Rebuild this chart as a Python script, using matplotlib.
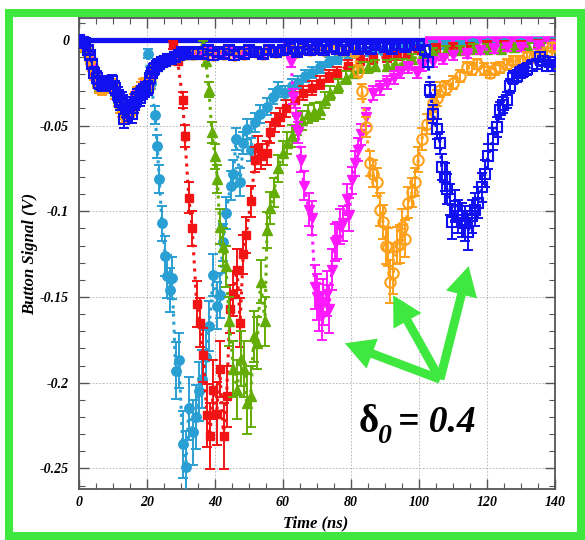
import numpy as np
import matplotlib
matplotlib.use("Agg")
import matplotlib.pyplot as plt
from matplotlib.patches import Rectangle, FancyArrowPatch

# ---------------- data ----------------
# common precursor (t in ns, signal in V)
pre_t = [0.0, 0.6, 1.2, 1.8, 2.5, 3.2, 3.8, 4.4, 5.2, 5.9,
         6.7, 7.6, 8.6, 9.7, 10.5, 11.5, 12.1, 12.6, 13.2, 13.8,
         14.4, 15.0, 15.6, 16.1, 16.5, 17.2, 17.9, 18.3, 18.8, 19.5]
pre_blue = [0.000, -0.001, -0.001, -0.002, -0.006, -0.009, -0.014, -0.019, -0.022, -0.025,
            -0.026, -0.026, -0.025, -0.024, -0.028, -0.032, -0.036, -0.035, -0.046, -0.040,
            -0.042, -0.038, -0.043, -0.038, -0.036, -0.033, -0.034, -0.031, -0.030, -0.029]
pre_other = [0.000, -0.001, -0.002, -0.004, -0.007, -0.011, -0.015, -0.020, -0.024, -0.027,
             -0.028, -0.027, -0.026, -0.027, -0.030, -0.034, -0.038, -0.040, -0.043, -0.042,
             -0.040, -0.040, -0.041, -0.036, -0.035, -0.032, -0.031, -0.029, -0.027, -0.026]

# plateau after precursor
mid_t = [20.3, 21.0, 21.5, 22.2, 22.9, 23.6, 24.4, 25.3, 26.2, 27.2,
         28.2, 29.3, 30.3, 31.2, 32.1, 33.5, 35.0, 36.5, 38.0, 39.5,
         41.0, 42.5, 44.0, 45.5, 47.0, 48.5, 50.0, 52.0, 54.0, 56.0,
         58.0, 60.0, 62.0, 64.0, 66.0, 68.0, 70.0, 72.0, 74.0, 76.0,
         78.0, 80.0, 82.0, 84.0, 86.0, 88.0, 90.0, 92.0, 94.0, 96.0,
         98.0, 100.0]
mid_v = [-0.028, -0.022, -0.019, -0.017, -0.015, -0.014, -0.013, -0.012, -0.011, -0.011,
         -0.010, -0.009, -0.007, -0.008, -0.007, -0.008, -0.007, -0.008, -0.006, -0.009,
         -0.007, -0.008, -0.006, -0.009, -0.007, -0.008, -0.006, -0.007, -0.008, -0.006,
         -0.007, -0.006, -0.005, -0.007, -0.005, -0.006, -0.005, -0.006, -0.004, -0.005,
         -0.006, -0.004, -0.005, -0.004, -0.005, -0.003, -0.004, -0.005, -0.003, -0.004,
         -0.003, -0.003]

# main pulses, one per bunch
cyan_t = [20.3, 21.2, 22.4, 23.0, 23.6, 24.4, 25.4, 26.0, 26.7, 27.4,
          28.4, 29.4, 30.5, 31.4, 32.3, 33.4, 34.4, 35.4, 36.3, 37.3,
          38.3, 39.5, 40.5, 41.4, 42.3, 43.2, 44.6, 45.4, 46.2, 47.4,
          48.3, 49.3, 50.5, 51.8, 53.2, 55.2, 57.2, 58.5, 60.5, 62.5,
          64.5, 66.5, 68.5, 71.0, 73.5, 76.0, 79.0, 82.0, 85.5, 89.0,
          92.5, 96.0, 100.0, 104.0, 108.0, 112.0, 116.0, 120.0, 125.0, 130.0,
          135.0, 140.0]
cyan_v = [-0.008, -0.025, -0.044, -0.062, -0.081, -0.107, -0.126, -0.138, -0.146, -0.139,
          -0.193, -0.187, -0.236, -0.249, -0.215, -0.229, -0.220, -0.205, -0.198, -0.185,
          -0.167, -0.137, -0.155, -0.149, -0.118, -0.101, -0.085, -0.078, -0.058, -0.083,
          -0.060, -0.052, -0.064, -0.048, -0.043, -0.039, -0.033, -0.029, -0.031, -0.027,
          -0.025, -0.021, -0.019, -0.016, -0.013, -0.011, -0.009, -0.008, -0.007, -0.006,
          -0.005, -0.004, -0.004, -0.003, -0.003, -0.003, -0.002, -0.002, -0.002, -0.002,
          -0.001, -0.001]

red_t = [27.7, 29.0, 30.5, 31.1, 32.3, 33.3, 34.6, 35.6, 36.6, 37.6,
         38.5, 39.5, 40.5, 41.4, 42.5, 43.4, 44.4, 45.4, 46.5, 47.4,
         48.3, 49.1, 50.6, 51.8, 52.7, 53.5, 55.2, 56.2, 57.5, 59.0,
         61.0, 63.5, 66.0, 68.5, 71.0, 73.5, 76.0, 79.0, 82.6, 86.5,
         90.6, 93.5, 96.5, 100.0, 105.0, 110.0, 115.0, 120.0, 125.0, 130.0,
         135.0, 140.0]
red_v = [-0.003, -0.012, -0.035, -0.056, -0.092, -0.110, -0.154, -0.165, -0.184, -0.219,
         -0.231, -0.204, -0.218, -0.192, -0.231, -0.208, -0.157, -0.148, -0.134, -0.165,
         -0.125, -0.114, -0.094, -0.070, -0.063, -0.068, -0.066, -0.054, -0.048, -0.045,
         -0.040, -0.035, -0.031, -0.028, -0.025, -0.021, -0.019, -0.015, -0.012, -0.011,
         -0.010, -0.009, -0.008, -0.006, -0.005, -0.004, -0.004, -0.003, -0.003, -0.003,
         -0.002, -0.002]

green_t = [36.5, 37.3, 38.2, 39.1, 40.0, 40.7, 41.4, 42.4, 43.2, 44.2,
           45.4, 46.5, 47.5, 48.5, 49.3, 50.5, 51.4, 52.4, 53.4, 54.7,
           55.3, 56.2, 57.3, 58.5, 60.0, 61.3, 62.6, 64.0, 65.7, 67.4,
           69.0, 70.9, 72.3, 73.8, 76.2, 78.5, 80.5, 82.6, 85.0, 87.0,
           90.6, 93.0, 95.3, 98.0, 101.0, 104.0, 108.0, 112.0, 116.0, 120.0,
           124.0, 128.0, 132.0, 136.0, 140.0]
green_v = [-0.003, -0.012, -0.029, -0.054, -0.068, -0.081, -0.109, -0.121, -0.132, -0.164,
           -0.192, -0.204, -0.186, -0.192, -0.212, -0.208, -0.173, -0.177, -0.141, -0.164,
           -0.111, -0.098, -0.089, -0.075, -0.066, -0.060, -0.056, -0.050, -0.047, -0.043,
           -0.042, -0.041, -0.035, -0.031, -0.027, -0.022, -0.019, -0.016, -0.016, -0.015,
           -0.015, -0.014, -0.014, -0.011, -0.009, -0.007, -0.006, -0.006, -0.005, -0.005,
           -0.005, -0.004, -0.004, -0.004, -0.004]

mag_t = [61.5, 62.4, 63.0, 63.7, 64.4, 65.2, 66.2, 67.6, 68.4, 69.4,
         70.0, 70.6, 71.4, 71.9, 72.8, 73.5, 74.4, 75.3, 75.9, 76.7,
         77.6, 78.7, 79.5, 80.2, 81.2, 82.0, 83.0, 84.5, 86.5, 88.5,
         90.6, 92.5, 94.4, 96.8, 99.4, 101.0, 104.0, 107.0, 110.0, 114.0,
         118.0, 122.0, 126.0, 130.0, 135.0, 140.0]
mag_v = [-0.005, -0.013, -0.033, -0.045, -0.054, -0.070, -0.085, -0.099, -0.104, -0.144,
         -0.150, -0.156, -0.161, -0.153, -0.148, -0.157, -0.134, -0.118, -0.117, -0.109,
         -0.107, -0.093, -0.102, -0.082, -0.072, -0.064, -0.055, -0.045, -0.031, -0.028,
         -0.025, -0.022, -0.019, -0.016, -0.019, -0.015, -0.013, -0.011, -0.009, -0.008,
         -0.006, -0.005, -0.004, -0.004, -0.003, -0.003]

orange_t = [80.9, 82.1, 83.2, 84.4, 85.6, 86.5, 87.6, 88.5, 89.4, 90.3,
            90.9, 91.5, 92.4, 93.5, 94.4, 94.9, 95.9, 96.8, 97.9, 98.8,
            99.8, 100.8, 102.3, 103.8, 104.2, 105.2, 106.2, 108.0, 110.0, 112.0,
            114.0, 115.5, 117.0, 119.0, 120.9, 122.4, 123.8, 125.8, 127.7, 129.7,
            131.7, 133.7, 135.6, 137.5, 139.0]
orange_v = [-0.007, -0.018, -0.030, -0.051, -0.072, -0.078, -0.083, -0.099, -0.106, -0.120,
            -0.121, -0.141, -0.136, -0.120, -0.119, -0.109, -0.116, -0.095, -0.089, -0.083,
            -0.070, -0.058, -0.049, -0.043, -0.037, -0.034, -0.029, -0.028, -0.025, -0.021,
            -0.016, -0.017, -0.014, -0.017, -0.019, -0.017, -0.016, -0.014, -0.012, -0.012,
            -0.010, -0.010, -0.009, -0.007, -0.004]

blue_t = [101.8, 102.7, 103.2, 104.2, 105.2, 106.2, 106.7, 107.5, 108.2, 109.1,
          109.6, 110.6, 111.5, 112.6, 113.5, 114.4, 115.6, 116.5, 117.4, 118.5,
          119.4, 120.3, 121.8, 122.8, 123.8, 124.8, 125.9, 126.8, 127.7, 128.7,
          129.7, 130.7, 131.7, 133.2, 134.7, 135.6, 136.6, 137.6, 138.5, 139.4]
blue_v = [-0.006, -0.013, -0.029, -0.043, -0.052, -0.060, -0.074, -0.080, -0.087, -0.093,
          -0.106, -0.097, -0.103, -0.105, -0.107, -0.112, -0.103, -0.099, -0.095, -0.086,
          -0.078, -0.068, -0.058, -0.051, -0.041, -0.038, -0.035, -0.027, -0.022, -0.021,
          -0.019, -0.018, -0.017, -0.015, -0.014, -0.010, -0.012, -0.015, -0.013, -0.015]

# zero-level baselines
blue_base_t = [0.0, 101.7]
blue_base_v = [0.0, 0.0]
mag_base_t = [101.7, 140.0]
mag_base_v = [0.0, 0.0]

xticks = [0, 20, 40, 60, 80, 100, 120, 140]
xticklabels = ["0", "20", "40", "60", "80", "100", "120", "140"]
yticks = [0, -0.05, -0.1, -0.15, -0.2, -0.25]
yticklabels = ["0", "-0.05", "-0.1", "-0.15", "-0.2", "-0.25"]

# ---------------- figure ----------------
W, H = 585, 540
fig = plt.figure(figsize=(W / 100, H / 100), dpi=100)
fig.patch.set_facecolor("white")
ax = fig.add_axes([79 / W, 1 - 489 / H, (555 - 79) / W, (489 - 18) / H])
ax.set_xlim(0, 140)
ax.set_ylim(-0.262, 0.0128)

serif = "Liberation Serif"


def build(series_t, series_v, pre_v):
    start = series_t[0]
    t = list(pre_t) + [x for x in mid_t if x < start - 0.2] + list(series_t)
    v = list(pre_v) + [y for x, y in zip(mid_t, mid_v) if x < start - 0.2] + list(series_v)
    return np.array(t), np.array(v)


styles = [
    (cyan_t, cyan_v, "#2a9fd4", "o", 6.8, True, 1.0),
    (red_t, red_v, "#f21414", "s", 6.2, True, 1.0),
    (green_t, green_v, "#64ad06", "^", 6.8, True, 1.0),
    (mag_t, mag_v, "#ff19ff", "v", 6.8, True, 1.0),
    (orange_t, orange_v, "#ffa01a", "o", 7.5, False, 1.5),
]

ax.plot(blue_base_t, blue_base_v, color="#1010f0", lw=3.8, zorder=3, solid_capstyle="butt")
ax.plot(mag_base_t, mag_base_v, color="#ff19ff", lw=5.5, zorder=3, solid_capstyle="butt")

z = 4
for st, sv, col, mk, ms, filled, mew in styles:
    t, v = build(st, sv, pre_other)
    err = 0.002 + 0.075 * np.abs(v)
    ax.plot(t, v, linestyle=":", color=col, lw=2.2, zorder=z)
    ax.errorbar(t, v, yerr=err, fmt="none", ecolor=col, elinewidth=1.4,
                capsize=3.5, capthick=1.4, zorder=z)
    ax.plot(t, v, linestyle="none", marker=mk, ms=ms,
            mfc=col if filled else "none", mec=col, mew=mew, zorder=z + 0.5)
    z += 1

# blue series
bt = np.array(list(pre_t) + list(mid_t) + list(blue_t))
bv = np.array(list(pre_blue) + list(mid_v) + list(blue_v))
berr = 0.002 + 0.075 * np.abs(bv)
bcol = "#1010f0"
ax.plot(bt, bv, linestyle=":", color=bcol, lw=2.2, zorder=z)
ax.errorbar(bt, bv, yerr=berr, fmt="none", ecolor=bcol, elinewidth=1.4,
            capsize=3.5, capthick=1.4, zorder=z)
ax.plot(bt, bv, linestyle="none", marker="s", ms=7.5, mfc="none", mec=bcol,
        mew=1.5, zorder=z + 0.5)

# axes styling
ax.set_xticks(xticks)
ax.set_xticklabels(xticklabels)
ax.set_yticks(yticks)
ax.set_yticklabels(yticklabels)
ax.set_xticks(np.arange(0, 141, 5), minor=True)
ax.set_yticks(np.arange(-0.26, 0.011, 0.01), minor=True)
ax.tick_params(which="both", direction="in", top=True, right=True, colors="#555555",
               labelcolor="black")
ax.tick_params(which="major", length=7, width=1.0)
ax.tick_params(which="minor", length=4, width=0.8)
ax.tick_params(axis="y", pad=7)
ax.tick_params(axis="x", pad=5)
for lab in ax.get_xticklabels() + ax.get_yticklabels():
    lab.set_fontfamily(serif)
    lab.set_fontweight("bold")
    lab.set_fontstyle("italic")
    lab.set_fontsize(10)
for s in ax.spines.values():
    s.set_color("#555555")
    s.set_linewidth(1.3)
ax.grid(True, which="major", linestyle=(0, (2, 2)), color="#b0b0b0", lw=0.6)
ax.set_axisbelow(True)

fig.text(30 / W, 1 - 254 / H, "Button Signal (V)", rotation=90, ha="center", va="center",
         fontfamily=serif, fontweight="bold", fontstyle="italic", fontsize=12)
fig.text(316 / W, 1 - 523 / H, "Time (ns)", ha="center", va="center",
         fontfamily=serif, fontweight="bold", fontstyle="italic", fontsize=12)

# annotation arrows (filled "simple" arrows, sizes in points)
green = "#3ee83e"
origin = (106.2, -0.198)
tips = [(78.2, -0.177), (92.4, -0.149), (114.6, -0.132)]
for tip in tips:
    arr = FancyArrowPatch(origin, tip,
                          arrowstyle="simple,head_length=21,head_width=23,tail_width=6.3",
                          mutation_scale=1, lw=0, color=green, zorder=20,
                          shrinkA=0, shrinkB=0)
    ax.add_patch(arr)

ax.text(82.1, -0.2286, "\u03b4", fontfamily=serif, fontweight="bold", fontsize=28,
        ha="left", va="baseline", zorder=21)
ax.text(87.6, -0.2350, "0", fontfamily=serif, fontweight="bold", fontstyle="italic",
        fontsize=20, ha="left", va="baseline", zorder=21)
ax.text(93.7, -0.2286, "= 0.4", fontfamily=serif, fontweight="bold", fontstyle="italic",
        fontsize=27, ha="left", va="baseline", zorder=21)

# green frame
fig.patches.append(Rectangle((9 / W, 1 - 536 / H), (581 - 9) / W, (536 - 13) / H,
                             transform=fig.transFigure, fill=False, ec=green, lw=5.8,
                             zorder=30))

fig.savefig("out.png", dpi=100, facecolor="white")
